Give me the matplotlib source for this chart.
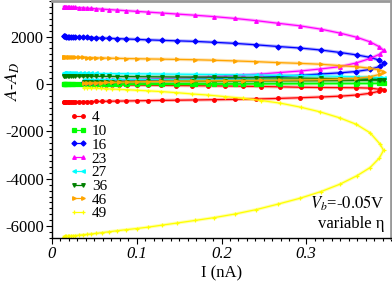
import matplotlib
matplotlib.use("Agg")
import matplotlib.pyplot as plt
from matplotlib.ticker import MultipleLocator, FixedLocator

# ---------------- data ----------------
current_nA = [0.0138, 0.0147, 0.0158, 0.0171, 0.0186, 0.0204, 0.0224, 0.0247, 0.0274, 0.0314,
              0.0361, 0.0412, 0.0462, 0.0521, 0.0588, 0.0667, 0.0765, 0.0871, 0.1000, 0.1138,
              0.1294, 0.1471, 0.1686, 0.1914, 0.2156, 0.2412, 0.2667, 0.2929, 0.3176, 0.3404,
              0.3600, 0.3753, 0.3862, 0.3912,
              0.3871, 0.3753, 0.3588, 0.3394, 0.3165, 0.2933, 0.2694, 0.2471, 0.2255, 0.2041,
              0.1844, 0.1647, 0.1459, 0.1282, 0.1129, 0.1000, 0.0888, 0.0794, 0.0712, 0.0641,
              0.0576, 0.0518, 0.0465, 0.0418, 0.0376]

A_4 = [-760, -760, -759, -759, -758, -757, -756, -755, -754, -752, -750, -747, -744, -740, -736,
       -731, -725, -718, -710, -702, -694, -686, -676, -664, -652, -636, -612, -582, -550, -515,
       -465, -395, -305, -255,
       -230, -175, -160, -155, -150, -140, -122, -108, -96, -86, -78, -72, -66, -60, -55, -50,
       -46, -42, -38, -35, -32, -29, -26, -23, -20]
A_10 = [-15, -15, -15, -15, -15, -14, -14, -14, -13, -13, -12, -11, -10, -9, -8, -7, -6, -4, -2,
        0, 2, 4, 7, 10, 13, 16, 19, 22, 25, 27, 29, 30, 28, 25,
        20, 15, 12, 10, 8, 6, 5, 4, 3, 2, 1, 0, 0, -1, -1, -2, -2, -3, -3, -3, -4, -4, -4, -5, -5]
A_16 = [2010, 2007, 2004, 2001, 1998, 1994, 1990, 1986, 1981, 1975, 1968, 1961, 1954, 1946, 1937,
        1926, 1913, 1898, 1880, 1860, 1840, 1820, 1795, 1757, 1712, 1650, 1580, 1515, 1430, 1325,
        1222, 1120, 1005, 870,
        740, 615, 525, 468, 418, 365, 322, 287, 257, 232, 211, 192, 176, 162, 150, 140, 131, 123,
        117, 111, 106, 101, 97, 93, 90]
A_23 = [3260, 3257, 3254, 3251, 3247, 3243, 3238, 3232, 3226, 3218, 3208, 3197, 3186, 3172, 3157,
        3139, 3117, 3092, 3062, 3030, 2994, 2950, 2900, 2840, 2765, 2670, 2560, 2450, 2310, 2140,
        1965, 1775, 1570, 1420,
        1264, 1074, 884, 728, 631, 547, 483, 420, 378, 336, 300, 270, 245, 225, 208, 194, 182, 172,
        164, 157, 151, 146, 141, 137, 133]
A_27 = [450, 450, 450, 449, 449, 449, 448, 448, 447, 446, 445, 444, 443, 441, 439, 437, 434, 431,
        427, 423, 418, 412, 405, 397, 388, 378, 366, 352, 337, 320, 303, 285, 268, 255,
        240, 228, 220, 214, 210, 206, 203, 200, 197, 195, 193, 191, 189, 187, 185, 184, 182, 181,
        180, 179, 178, 177, 176, 175, 174]
A_36 = [330, 330, 330, 329, 329, 329, 328, 328, 327, 326, 325, 324, 323, 321, 319, 317, 314, 311,
        308, 304, 300, 295, 289, 282, 274, 265, 255, 244, 232, 220, 208, 196, 185, 175,
        165, 155, 148, 142, 137, 132, 128, 124, 120, 117, 114, 111, 108, 106, 104, 102, 100, 98,
        96, 95, 94, 93, 92, 91, 90]
A_46 = [1150, 1148, 1146, 1144, 1142, 1139, 1136, 1133, 1129, 1124, 1118, 1112, 1106, 1100, 1094,
        1087, 1080, 1072, 1064, 1055, 1046, 1035, 1022, 1000, 972, 940, 900, 868, 830, 772, 725,
        660, 590, 520,
        410, 300, 232, 200, 182, 170, 160, 152, 145, 138, 130, 122, 114, 106, 98, 90, 82, 75, 68,
        62, 56, 50, 45, 40, 35]
A_49 = [-6440, -6437, -6434, -6430, -6425, -6420, -6413, -6405, -6396, -6383, -6367, -6350, -6330,
        -6305, -6275, -6240, -6195, -6150, -6100, -6040, -5960, -5870, -5760, -5640, -5490, -5300,
        -5070, -4820, -4540, -4220, -3870, -3530, -3130, -2800,
        -2540, -2060, -1700, -1430, -1180, -980, -810, -700, -605, -535, -470, -420, -365, -320,
        -290, -265, -245, -228, -213, -200, -190, -180, -172, -165, -158]

series_labels = ["4", "10", "16", "23", "27", "36", "46", "49"]
series_values = [A_4, A_10, A_16, A_23, A_27, A_36, A_46, A_49]
series_colors = ["#ff0000", "#00ff00", "#0000ff", "#ff00ff", "#00ffff", "#008000", "#ffa500", "#ffff00"]
series_markers = ["o", "s", "D", "^", "<", "v", ">", "+"]

x_ticks = [0, 0.1, 0.2, 0.3]
x_ticklabels = ["0", "0.1", "0.2", "0.3"]
y_ticks = [-6000, -4000, -2000, 0, 2000]
y_ticklabels = ["-6000", "-4000", "-2000", "0", "2000"]

# ---------------- figure ----------------
plt.rcParams["font.family"] = ["Liberation Serif", "DejaVu Serif"]
plt.rcParams["mathtext.fontset"] = "stix"
plt.rcParams["axes.unicode_minus"] = False

fig = plt.figure(figsize=(3.92, 2.90), dpi=100)
ax = fig.add_axes([52 / 392, 52 / 290, 339 / 392, 237 / 290])

handles = []
for lab, vals, col, mk in zip(series_labels, series_values, series_colors, series_markers):
    ax.plot(current_nA, vals, color=col, lw=2.4, alpha=0.3, solid_capstyle="round")
    h, = ax.plot(current_nA, vals, color=col, lw=0.9, marker=mk, markersize=2.6,
                 markeredgewidth=0.9, label=lab)
    handles.append(h)

ax.set_xlim(0, 0.4)
ax.set_ylim(-6500, 3500)

ax.xaxis.set_major_locator(FixedLocator(x_ticks))
ax.set_xticklabels(x_ticklabels, fontstyle="italic", fontsize=12)
ax.xaxis.set_minor_locator(MultipleLocator(0.01))
ax.yaxis.set_major_locator(FixedLocator(y_ticks))
ax.set_yticklabels(y_ticklabels, fontsize=12)
ax.yaxis.set_minor_locator(MultipleLocator(250))

ax.tick_params(which="both", direction="out", top=False, right=False, width=0.8)
ax.tick_params(which="major", length=4, pad=2)
ax.tick_params(which="minor", length=2.5)

for s in ("left", "bottom"):
    ax.spines[s].set_color("black")
    ax.spines[s].set_linewidth(1.0)
for s in ("top", "right"):
    ax.spines[s].set_color("#999999")
    ax.spines[s].set_linewidth(2.0)

ax.set_xlabel("I (nA)", fontsize=12, labelpad=2)
ax.set_ylabel(r"$A$-$A_D$", fontsize=13)
ax.yaxis.set_label_coords(-0.088, 0.66)

leg = ax.legend(handles=handles, loc="upper left", bbox_to_anchor=(0.05, 0.537),
                frameon=False, fontsize=11, numpoints=2, handlelength=1.2,
                handletextpad=0.3, labelspacing=0.0, borderpad=0, borderaxespad=0)

ax.text(0.98, 0.148, r"$V_b$=-$\mathit{0.05}$V", transform=ax.transAxes,
        ha="right", va="center", fontsize=12)
ax.text(0.98, 0.058, "variable η", transform=ax.transAxes,
        ha="right", va="center", fontsize=12)

fig.savefig("out.png", dpi=100)
